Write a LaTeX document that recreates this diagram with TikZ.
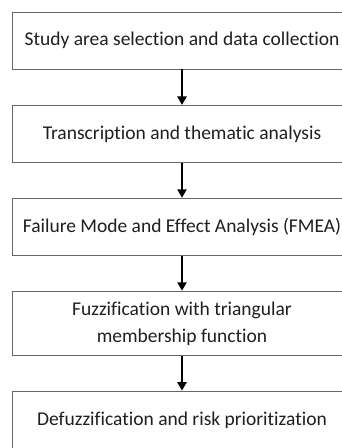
\documentclass[tikz,border=0pt]{standalone}
\usepackage{fontspec}
\setmainfont{Carlito}[Ligatures=NoCommon]
\usetikzlibrary{positioning, arrows.meta}

\tikzset{
  stage/.style={draw=black!60, line width=0.9pt, minimum width=340pt, minimum height=57pt,
    inner sep=0pt, align=center, text=black!88, font=\fontsize{19.5pt}{27pt}\selectfont},
  flow/.style={line width=2.4pt, -{Triangle[length=8.5pt,width=9pt]}, shorten >=0.5pt}
}

\begin{document}
\begin{tikzpicture}[x=1pt, y=1pt]
\useasboundingbox (0,0) rectangle (342,-448);
\clip (0,0) rectangle (342,-448);
% stages
\node[stage] (s1) at (182,-40.5) {Study area selection and data collection};
\node[stage, below=36pt of s1] (s2) {Transcription and thematic analysis};
\node[stage, below=35pt of s2] (s3) {Failure Mode and Effect Analysis (FMEA)};
\node[stage, below=35pt of s3, minimum height=64pt] (s4) {Fuzzification with triangular\\membership function};
\node[stage, below=35pt of s4] (s5) {Defuzzification and risk prioritization};
% arrows
\foreach \i[evaluate=\i as \m using int(\i+1)] in {1,...,4}
        \draw[flow] (s\i) -- (s\m);
\end{tikzpicture}
\end{document}
